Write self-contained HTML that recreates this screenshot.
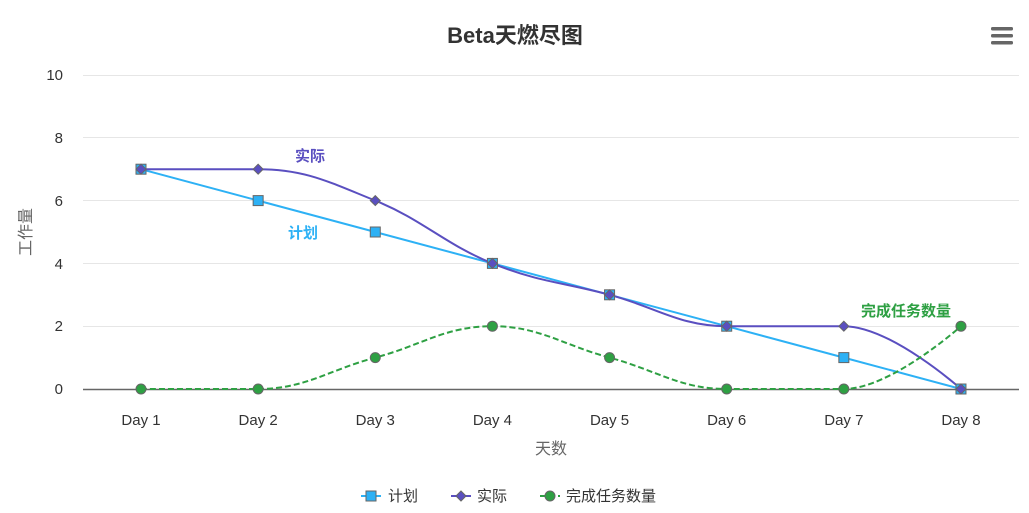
<!DOCTYPE html>
<html><head><meta charset="utf-8"><style>
body{margin:0;background:#fff;}
svg{display:block;font-family:"Liberation Sans","Noto Sans CJK SC",sans-serif;}
</style></head><body>
<svg id="s" width="1029" height="513" viewBox="0 0 1029 513">
<rect width="1029" height="513" fill="#fff"/>
<text x="515" y="43" text-anchor="middle" font-size="22" font-weight="bold" fill="#333">Beta天燃尽图</text>
<g fill="#666"><rect x="991" y="27" width="22" height="3.5" rx="1.5"/><rect x="991" y="34" width="22" height="3.5" rx="1.5"/><rect x="991" y="41" width="22" height="3.5" rx="1.5"/></g>
<g stroke="#e6e6e6" stroke-width="1">
<line x1="83" x2="1019" y1="75.5" y2="75.5"/><line x1="83" x2="1019" y1="137.5" y2="137.5"/>
<line x1="83" x2="1019" y1="200.5" y2="200.5"/><line x1="83" x2="1019" y1="263.5" y2="263.5"/>
<line x1="83" x2="1019" y1="326.5" y2="326.5"/></g>
<line x1="83" x2="1019" y1="389.5" y2="389.5" stroke="#666" stroke-width="1.5"/>
<g font-size="15" fill="#333" text-anchor="end">
<text x="63" y="80">10</text><text x="63" y="143">8</text><text x="63" y="206">6</text>
<text x="63" y="269">4</text><text x="63" y="331">2</text><text x="63" y="394">0</text></g>
<text transform="translate(31,232) rotate(-90)" text-anchor="middle" font-size="16" fill="#666">工作量</text>
<g id="xl" font-size="15" fill="#333" text-anchor="middle"></g>
<text x="551" y="454" text-anchor="middle" font-size="16" fill="#666">天数</text>
<g id="series"></g>
<text x="310" y="161" text-anchor="middle" font-size="15" font-weight="bold" fill="#5a4fc0">实际</text>
<text x="303" y="238" text-anchor="middle" font-size="15" font-weight="bold" fill="#2db1f5">计划</text>
<text x="906" y="316" text-anchor="middle" font-size="15" font-weight="bold" fill="#2ea043">完成任务数量</text>
<g font-size="15" fill="#333">
<line x1="361" x2="381" y1="496" y2="496" stroke="#2db1f5" stroke-width="2"/>
<rect x="366" y="491" width="10" height="10" fill="#2db1f5" stroke="#666"/>
<text x="388" y="501">计划</text>
<line x1="451" x2="471" y1="496" y2="496" stroke="#5a4fc0" stroke-width="2"/>
<path d="M461 491 L466 496 L461 501 L456 496Z" fill="#5a4fc0" stroke="#666"/>
<text x="477" y="501">实际</text>
<line x1="540" x2="560" y1="496" y2="496" stroke="#2ea043" stroke-width="2" stroke-dasharray="6,3"/>
<circle cx="550" cy="496" r="5" fill="#2ea043" stroke="#666"/>
<text x="566" y="501">完成任务数量</text>
</g>
</svg>
<script>
var NS="http://www.w3.org/2000/svg";
function X(i){return 141+i*117.14;}
function Y(v){return 389-v*31.4;}
var xl=document.getElementById('xl');
for(var i=0;i<8;i++){var t=document.createElementNS(NS,'text');t.setAttribute('x',X(i));t.setAttribute('y',425);t.textContent='Day '+(i+1);xl.appendChild(t);}
function spline(pts){
 var d='M'+pts[0][0]+' '+pts[0][1];var rc=[pts[0][0],pts[0][1]];
 for(var i=1;i<pts.length;i++){
  var p=pts[i],l=pts[i-1],n=pts[i+1],lc,nrc;
  if(n){var s=1.5,dn=2.5;
   var lx=(s*p[0]+l[0])/dn,ly=(s*p[1]+l[1])/dn,rx=(s*p[0]+n[0])/dn,ry=(s*p[1]+n[1])/dn;
   var c=((ry-ly)*(rx-p[0]))/(rx-lx)+p[1]-ry;ly+=c;ry+=c;
   if(ly>l[1]&&ly>p[1]){ly=Math.max(l[1],p[1]);ry=2*p[1]-ly;}else if(ly<l[1]&&ly<p[1]){ly=Math.min(l[1],p[1]);ry=2*p[1]-ly;}
   if(ry>n[1]&&ry>p[1]){ry=Math.max(n[1],p[1]);ly=2*p[1]-ry;}else if(ry<n[1]&&ry<p[1]){ry=Math.min(n[1],p[1]);ly=2*p[1]-ry;}
   lc=[lx,ly];nrc=[rx,ry];}else{lc=[p[0],p[1]];nrc=null;}
  d+=' C'+rc[0]+' '+rc[1]+' '+lc[0]+' '+lc[1]+' '+p[0]+' '+p[1];rc=nrc;}
 return d;}
var g=document.getElementById('series');
function el(tag,a){var e=document.createElementNS(NS,tag);for(var k in a)e.setAttribute(k,a[k]);g.appendChild(e);return e;}
var plan=[7,6,5,4,3,2,1,0],act=[7,7,6,4,3,2,2,0],done=[0,0,1,2,1,0,0,2];
function P(a){return a.map(function(v,i){return [X(i),Y(v)];});}
el('path',{d:'M'+P(plan).map(function(p){return p.join(' ');}).join(' L'),fill:'none',stroke:'#2db1f5','stroke-width':2});
el('path',{d:spline(P(act)),fill:'none',stroke:'#5a4fc0','stroke-width':2});
el('path',{d:spline(P(done)),fill:'none',stroke:'#2ea043','stroke-width':2,'stroke-dasharray':'6,3'});
P(plan).forEach(function(p){el('rect',{x:p[0]-5,y:p[1]-5,width:10,height:10,fill:'#2db1f5',stroke:'#666'});});
P(act).forEach(function(p){el('path',{d:'M'+p[0]+' '+(p[1]-5)+' L'+(p[0]+5)+' '+p[1]+' L'+p[0]+' '+(p[1]+5)+' L'+(p[0]-5)+' '+p[1]+'Z',fill:'#5a4fc0',stroke:'#666'});});
P(done).forEach(function(p){el('circle',{cx:p[0],cy:p[1],r:5,fill:'#2ea043',stroke:'#666'});});
</script>
</body></html>
